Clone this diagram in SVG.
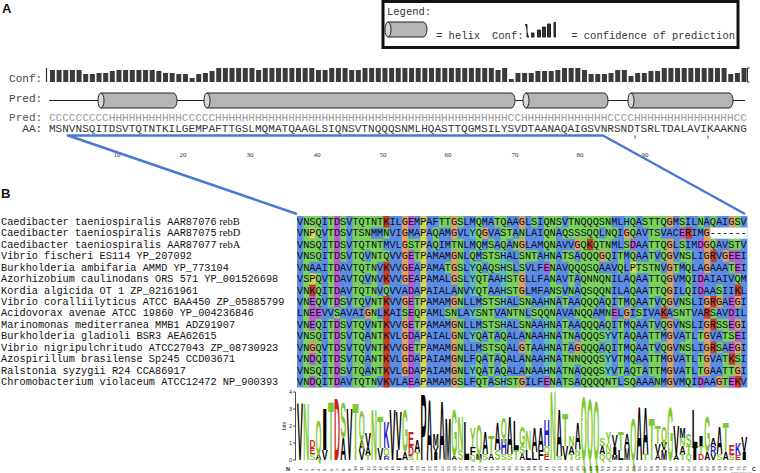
<svg xmlns="http://www.w3.org/2000/svg" width="760" height="473" viewBox="0 0 760 473">
<style>
.m{font-family:"Liberation Mono","DejaVu Sans Mono",monospace}
.pl{font-family:"Liberation Sans",Arial,sans-serif;font-weight:bold;font-size:13px;fill:#111}
.aln text{font-family:"Liberation Mono","DejaVu Sans Mono",monospace;font-size:10.28px;fill:#0d0d20}
.lbl text{font-family:"Liberation Mono","DejaVu Sans Mono",monospace;font-size:10.28px;fill:#111}
.lbl tspan{font-family:"Liberation Serif",serif;font-size:10.5px}
.bg path{fill:none;stroke-width:1}
.cyl{fill:#b5b5b5;stroke:#222;stroke-width:1}
.cyle{fill:#d8d8d8;stroke:#222;stroke-width:1}
.lg text{font-family:"Liberation Sans",Arial,sans-serif;font-weight:bold;font-size:8.38px;text-anchor:middle}
.k{fill:#000}.g{fill:#80c832}.r{fill:#d21d1d}.b{fill:#2020c8}
.num{font-family:"Liberation Serif",serif;font-size:7px;fill:#333;text-anchor:middle}
.ln text{font-family:"Liberation Sans",Arial,sans-serif;font-size:4.3px;fill:#222}
.ax{font-family:"Liberation Sans",Arial,sans-serif;font-size:5.5px;fill:#222}
</style>
<rect width="760" height="473" fill="#fff"/>

<g id="panel-a-label"><text class="pl" x="2" y="13">A</text></g>
<g id="panel-b-label"><text class="pl" x="1" y="198">B</text></g>

<g id="legend">
<rect x="383" y="1.5" width="355" height="46" fill="#fff" stroke="#111" stroke-width="3"/>
<text class="m" x="387" y="15" font-size="10.5" fill="#333">Legend:</text>
<path class="cyl" d="M388 22H423A4 7.5 0 0 1 423 37H388Z"/>
<ellipse class="cyle" cx="388" cy="29.5" rx="3" ry="7.5"/>
<text class="m" x="436" y="38.5" font-size="10.5" fill="#333">= helix</text>
<text class="m" x="492" y="38.5" font-size="10.5" fill="#333">Conf:</text>
<path d="M525 24.5h2v12.5h2M531 33h3v4h-3M537.5 30h3v7h-3z M542.5 27h3v10h-3z M547.5 24h3v13h-3z M556 22.5h-2v14.5h2" fill="#333" stroke="#222" stroke-width="1"/>
<text class="m" x="735" y="38.5" font-size="10.5" fill="#333" text-anchor="end">= confidence of prediction</text>
</g>

<g id="conf">
<text class="m" x="9" y="82" font-size="11.08" fill="#444">Conf:</text>
<path d="M46.5 68v14" stroke="#333" stroke-width="1.2"/>
<path d="M747.5 68v14M747.5 68h2M747.5 82h2" stroke="#333" stroke-width="1"/>
<g transform="translate(49.8,82) scale(6.65,-1)">
<path stroke="#3a3a3a" stroke-width=".75" fill="none" d="M.4 0v12M1.4 0v12M2.4 0v12M3.4 0v12M4.4 0v12M5.4 0v8M6.4 0v8M7.4 0v9M8.4 0v9M9.4 0v11M10.4 0v12M11.4 0v12M12.4 0v12M13.4 0v12M14.4 0v12M15.4 0v12M16.4 0v11M17.4 0v9M18.4 0v9M19.4 0v8M20.4 0v8M21.4 0v4M22.4 0v8M23.4 0v9M24.4 0v11M25.4 0v14M26.4 0v14M27.4 0v14M28.4 0v14M29.4 0v14M30.4 0v14M31.4 0v12M32.4 0v14M33.4 0v14M34.4 0v14M35.4 0v14M36.4 0v14M37.4 0v14M38.4 0v14M39.4 0v14M40.4 0v12M41.4 0v12M42.4 0v14M43.4 0v14M44.4 0v14M45.4 0v12M46.4 0v12M47.4 0v14M48.4 0v14M49.4 0v14M50.4 0v14M51.4 0v14M52.4 0v14M53.4 0v14M54.4 0v14M55.4 0v14M56.4 0v14M57.4 0v14M58.4 0v14M59.4 0v14M60.4 0v14M61.4 0v14M62.4 0v14M63.4 0v14M64.4 0v14M65.4 0v14M66.4 0v14M67.4 0v12M68.4 0v14M69.4 0v3M70.4 0v9M71.4 0v9M72.4 0v9M73.4 0v11M74.4 0v11M75.4 0v11M76.4 0v12M77.4 0v14M78.4 0v14M79.4 0v14M80.4 0v12M81.4 0v8M82.4 0v8M83.4 0v8M84.4 0v9M85.4 0v12M86.4 0v12M87.4 0v6M88.4 0v9M89.4 0v9M90.4 0v11M91.4 0v11M92.4 0v14M93.4 0v14M94.4 0v14M95.4 0v14M96.4 0v14M97.4 0v14M98.4 0v14M99.4 0v14M100.4 0v14M101.4 0v14M102.4 0v8M103.4 0v9M104.4 0v14"/>
</g>
</g>

<g id="pred">
<text class="m" x="9" y="102" font-size="11.08" fill="#444">Pred:</text>
<path d="M49 100.5H745" stroke="#222" stroke-width="1"/>
<path class="cyl" d="M101 93H173A4 7.5 0 0 1 173 108H101Z"/><ellipse class="cyle" cx="101" cy="100.5" rx="3" ry="7.5"/>
<path class="cyl" d="M207 93H511A4 7.5 0 0 1 511 108H207Z"/><ellipse class="cyle" cx="207" cy="100.5" rx="3" ry="7.5"/>
<path class="cyl" d="M526 93H604A4 7.5 0 0 1 604 108H526Z"/><ellipse class="cyle" cx="526" cy="100.5" rx="3" ry="7.5"/>
<path class="cyl" d="M631 93H729A4 7.5 0 0 1 729 108H631Z"/><ellipse class="cyle" cx="631" cy="100.5" rx="3" ry="7.5"/>
</g>

<g id="sequence">
<text class="m" x="9" y="121" font-size="11.08" fill="#555">Pred:</text>
<text class="m" x="48.9" y="121" font-size="11.08" fill="#9a9a9a" textLength="698" lengthAdjust="spacing">CCCCCCCCCHHHHHHHHHHHCCCCCHHHHHHHHHHHHHHHHHHHHHHHHHHHHHHHHHHHHHHHHHHHHCCHHHHHHHHHHHHHCCCCHHHHHHHHHHHHHHHCC</text>
<text class="m" x="22.3" y="132" font-size="11.08" fill="#333">AA:</text>
<text class="m" x="48.9" y="132" font-size="11.08" fill="#333" textLength="698" lengthAdjust="spacing">MSNVNSQITDSVTQTNTKILGEMPAFTTGSLMQMATQAAGLSIQNSVTNQQQSNMLHQASTTQGMSILYSVDTAANAQAIGSVNRSNDTSRLTDALAVIKAAKNG</text>
<path d="M635 135.5v3M708 135.5v3" stroke="#444" stroke-width="1"/>
<text class="num" x="117" y="157">10</text><text class="num" x="183" y="157">20</text><text class="num" x="250" y="157">30</text><text class="num" x="317" y="157">40</text><text class="num" x="383" y="157">50</text><text class="num" x="448" y="157">60</text><text class="num" x="515" y="157">70</text><text class="num" x="580" y="157">80</text><text class="num" x="645" y="157">90</text>
</g>

<g id="connectors">
<polyline points="297,214 68,135.5 603,135.5 745,214" fill="none" stroke="#4a78d2" stroke-width="2.5" stroke-linejoin="round"/>
</g>

<g id="alignment">
<g class="bg" transform="translate(297,216) scale(6.17,11.43)">
<rect x="0" y="0" width="73" height="15" fill="#5b8de6"/>
<path stroke="#78d25a" d="M1 .5h3M5 .5h1M7 .5h1M9 .5h5M23 .5h2M26 .5h1M29 .5h1M32 .5h2M38 .5h1M40 .5h3M44 .5h7M54 .5h1M56 .5h4M62 .5h1M65 .5h1M67 .5h1M71 .5h1M1 1.5h1M3 1.5h1M5 1.5h1M7 1.5h1M9 1.5h3M14 1.5h1M22 1.5h1M29 1.5h1M33 1.5h2M36 1.5h1M40 1.5h2M43 1.5h6M50 1.5h2M54 1.5h1M57 1.5h2M1 2.5h3M5 2.5h1M7 2.5h1M9 2.5h5M18 2.5h2M22 2.5h1M25 2.5h2M29 2.5h1M31 2.5h1M33 2.5h1M35 2.5h1M40 2.5h2M46 2.5h1M48 2.5h3M53 2.5h1M57 2.5h3M62 2.5h1M67 2.5h1M70 2.5h2M1 3.5h3M5 3.5h1M7 3.5h1M9 3.5h2M12 3.5h3M19 3.5h1M26 3.5h1M28 3.5h1M30 3.5h3M36 3.5h3M41 3.5h1M43 3.5h2M46 3.5h3M50 3.5h1M52 3.5h1M54 3.5h1M57 3.5h1M59 3.5h1M62 3.5h2M1 4.5h1M5 4.5h1M9 4.5h4M24 4.5h1M26 4.5h1M29 4.5h1M31 4.5h2M34 4.5h1M36 4.5h1M41 4.5h1M44 4.5h5M52 4.5h1M55 4.5h4M61 4.5h1M63 4.5h1M70 4.5h1M1 5.5h1M3 5.5h1M5 5.5h1M9 5.5h2M12 5.5h1M26 5.5h1M29 5.5h2M34 5.5h2M41 5.5h1M44 5.5h1M46 5.5h5M54 5.5h1M57 5.5h3M63 5.5h1M71 5.5h1M1 6.5h1M3 6.5h1M5 6.5h1M9 6.5h4M14 6.5h1M26 6.5h1M29 6.5h2M34 6.5h2M41 6.5h2M44 6.5h1M46 6.5h5M54 6.5h1M57 6.5h3M63 6.5h1M68 6.5h1M1 7.5h1M3 7.5h1M5 7.5h1M7 7.5h1M9 7.5h2M12 7.5h2M19 7.5h1M26 7.5h1M30 7.5h3M36 7.5h2M41 7.5h1M43 7.5h1M46 7.5h3M50 7.5h1M52 7.5h1M54 7.5h1M57 7.5h1M59 7.5h1M62 7.5h2M1 8.5h1M6 8.5h1M12 8.5h1M17 8.5h1M19 8.5h1M24 8.5h2M29 8.5h3M34 8.5h3M38 8.5h4M45 8.5h3M50 8.5h1M55 8.5h1M61 8.5h3M67 8.5h1M1 9.5h1M3 9.5h1M5 9.5h1M7 9.5h1M9 9.5h2M12 9.5h2M19 9.5h1M26 9.5h1M30 9.5h3M36 9.5h2M41 9.5h1M43 9.5h1M46 9.5h3M50 9.5h1M52 9.5h1M54 9.5h1M57 9.5h1M59 9.5h1M62 9.5h2M68 9.5h2M1 10.5h3M5 10.5h1M7 10.5h1M9 10.5h2M12 10.5h2M26 10.5h1M29 10.5h1M31 10.5h1M33 10.5h1M37 10.5h1M41 10.5h1M43 10.5h2M46 10.5h4M52 10.5h1M54 10.5h1M57 10.5h2M63 10.5h1M65 10.5h1M69 10.5h2M1 11.5h1M3 11.5h1M5 11.5h1M7 11.5h1M9 11.5h2M12 11.5h2M19 11.5h1M26 11.5h1M30 11.5h4M37 11.5h1M41 11.5h1M43 11.5h1M46 11.5h3M50 11.5h1M52 11.5h1M54 11.5h1M57 11.5h1M59 11.5h1M62 11.5h2M68 11.5h1M1 12.5h1M3 12.5h1M5 12.5h1M7 12.5h1M9 12.5h2M12 12.5h2M26 12.5h1M29 12.5h1M31 12.5h1M33 12.5h1M37 12.5h1M41 12.5h1M43 12.5h7M52 12.5h1M54 12.5h1M57 12.5h2M63 12.5h1M65 12.5h1M69 12.5h1M71 12.5h1M1 13.5h3M5 13.5h1M7 13.5h1M9 13.5h2M12 13.5h2M26 13.5h1M29 13.5h1M31 13.5h1M33 13.5h1M37 13.5h1M41 13.5h1M43 13.5h2M46 13.5h4M52 13.5h1M54 13.5h2M57 13.5h2M63 13.5h1M65 13.5h1M69 13.5h2M1 14.5h1M3 14.5h1M5 14.5h1M9 14.5h4M26 14.5h1M29 14.5h2M32 14.5h1M34 14.5h2M41 14.5h1M43 14.5h2M46 14.5h6M53 14.5h2M58 14.5h1M63 14.5h1M69 14.5h1"/>
<path stroke="#bc5ad6" d="M6 .5h1M18 .5h1M6 1.5h1M62 1.5h1M6 2.5h1M54 2.5h1M65 2.5h1M6 3.5h1M18 3.5h1M70 3.5h2M6 4.5h1M18 4.5h1M40 4.5h1M71 4.5h1M6 5.5h1M18 5.5h1M65 5.5h1M6 6.5h1M18 6.5h1M65 6.5h1M2 7.5h1M6 7.5h1M18 7.5h1M70 7.5h1M2 8.5h2M18 8.5h1M51 8.5h1M70 8.5h1M2 9.5h1M6 9.5h1M18 9.5h1M70 9.5h1M6 10.5h1M18 10.5h1M71 10.5h1M6 11.5h1M18 11.5h1M70 11.5h1M2 12.5h1M6 12.5h1M18 12.5h1M6 13.5h1M18 13.5h1M2 14.5h1M6 14.5h1M18 14.5h1M40 14.5h1M65 14.5h1M70 14.5h1"/>
<path stroke="#cf3a1e" d="M14 .5h1M63 1.5h1M47 2.5h1M67 3.5h1M14 4.5h1M14 5.5h1M2 6.5h1M71 6.5h1M14 7.5h1M67 7.5h1M14 8.5h1M59 8.5h1M66 8.5h1M14 9.5h1M67 9.5h1M14 10.5h1M14 11.5h1M67 11.5h1M14 12.5h1M70 12.5h1M14 13.5h1M14 14.5h1M71 14.5h1"/>
<path stroke="#e3a05c" d="M17 .5h1M25 .5h1M36 .5h1M60 .5h1M70 .5h1M17 1.5h1M25 1.5h1M30 1.5h1M53 1.5h1M66 1.5h1M17 2.5h1M36 2.5h1M45 2.5h1M60 2.5h1M66 2.5h1M17 3.5h1M25 3.5h1M49 3.5h1M60 3.5h1M66 3.5h1M69 3.5h1M17 4.5h1M25 4.5h1M60 4.5h1M66 4.5h1M17 5.5h1M25 5.5h1M36 5.5h1M60 5.5h1M36 6.5h1M60 6.5h1M17 7.5h1M25 7.5h1M60 7.5h1M66 7.5h1M68 7.5h1M71 7.5h1M11 8.5h1M53 8.5h1M17 9.5h1M25 9.5h1M60 9.5h1M66 9.5h1M71 9.5h1M17 10.5h1M25 10.5h1M60 10.5h1M66 10.5h1M2 11.5h1M17 11.5h1M25 11.5h1M36 11.5h1M45 11.5h1M60 11.5h1M66 11.5h1M71 11.5h1M17 12.5h1M25 12.5h1M60 12.5h1M66 12.5h1M17 13.5h1M25 13.5h1M60 13.5h1M66 13.5h1M71 13.5h1M25 14.5h1M36 14.5h1M60 14.5h1M68 14.5h1"/>
<path stroke="#d8d64a" d="M20.5 0v15M2 1.5h1M54 4.5h1M2 5.5h1"/>
<path stroke="#5cbcc0" d="M53 .5h1M28 1.5h1M33 3.5h1M40 3.5h1M28 4.5h1M33 4.5h1M28 5.5h1M33 5.5h1M28 6.5h1M33 6.5h1M33 7.5h1M40 7.5h1M28 8.5h1M33 9.5h1M40 9.5h1M28 10.5h1M40 10.5h1M50 10.5h1M40 11.5h1M40 12.5h1M50 12.5h1M28 13.5h1M40 13.5h1M50 13.5h1M33 14.5h1"/>
<path stroke="#ffffff" d="M67 1.5h6"/>
</g>
<g class="aln">
<text x="297" y="224.9">VNSQITDSVTQTNTKILGEMPAFTTGSLMQMATQAAGLSIQNSVTNQQQSNMLHQASTTQGMSILNAQAIGSV</text>
<text x="297" y="236.3">VNPQVTDSVTSNMMNVIGMAPAQAMGVLYQGVASTANLAIQNAQSSSQQLNQIGQAVTSVACERIMG------</text>
<text x="297" y="247.8">VNSQITDSVTQTNTMVLGSTPAQIMTNLMQMSAQANGLAMQNAVVGQKQTNMLSDAATTQGLSIMDGQAVSTV</text>
<text x="297" y="259.2">VNSQITDSVTQVNTQVVGETPAMAMGNLQMSTSHALSNTAHNATSAQQQGQITMQAATVQGVNSLIGRVGEEI</text>
<text x="297" y="270.6">VNAAITDAVTQTNVKVVGEAPAMATGSLYQAQSHSLSVLFENAVQQQSQAAVQLPTSTNVGTMQLAGAAATEI</text>
<text x="297" y="282.1">VSPQVTDAVTQVNVKVVGEAPAMALGSLYQTAAHSTGLLFANAVTAQNNQNILAQAATTQGVMQIDAIAIVQM</text>
<text x="297" y="293.5">VNKQITDAVTQTNVQVVADAPAIALANVYQTAAHSTGLMFANSVNAQSQQNILAQAATTQGILQIDAASIIKL</text>
<text x="297" y="304.9">VNEQVTDSVTQVNTKVVGETPAMAMGNLLMSTSHALSNAAHNATAAQQQAQITMQAATVQGVNSLIGRGAEGI</text>
<text x="297" y="316.3">LNEEVVSAVAIGNLKAISEQPAMLSNLAYSNTVANTNLSQQNAVANQQAMNELGISIVAKASNTVARSAVDIL</text>
<text x="297" y="327.8">VNEQITDSVTQVNTKVVGETPAMAMGNLLMSTSHALSNAAHNATAAQQQAQITMQAATVQGVNSLIGRSSEGI</text>
<text x="297" y="339.2">VNSQITDSVTQANTKVLGDAPAIALGNLYQATAQALANAAHNATNAQQQSYVTAQAATTMGVATLTGVATSEI</text>
<text x="297" y="350.6">VNGQVTDSVTQVNTKVVGETPAMAMGNLLMSTSQALGTAAHNATAGQQQAQITMQAATVQGVNSLIGRSAEGI</text>
<text x="297" y="362.1">VNDQITDSVTQANTKVLGDAPAIAMGNLFQATAQALANAAHNATNNQQQSYVTMQAATTMGVATLTGVATKSI</text>
<text x="297" y="373.5">VNSQITDSVTQANTKVLGDAPAIAMGNLYQATAQALANAAHNATNAQQQSYVTAQTATTMGVATLTGAATTGI</text>
<text x="297" y="384.9">VNDQITDAVTQTNVKVLAEAPAMAMGSLFQTASHSTGILFENATSAQQQQNTLSQAAANMGVMQIDAAGTEKV</text>
</g>
</g>

<g id="labels" class="lbl">
<text x="1" y="224.9">Caedibacter taeniospiralis AAR87076<tspan> rebB</tspan></text>
<text x="1" y="236.3">Caedibacter taeniospiralis AAR87075<tspan> rebD</tspan></text>
<text x="1" y="247.8">Caedibacter taeniospiralis AAR87077<tspan> rebA</tspan></text>
<text x="1" y="259.2">Vibrio fischeri ES114 YP_207092</text>
<text x="1" y="270.6">Burkholderia ambifaria AMMD YP_773104</text>
<text x="1" y="282.1">Azorhizobium caulinodans ORS 571 YP_001526698</text>
<text x="1" y="293.5">Kordia algicida OT 1 ZP_02161961</text>
<text x="1" y="304.9">Vibrio coralliilyticus ATCC BAA450 ZP_05885799</text>
<text x="1" y="316.3">Acidovorax avenae ATCC 19860 YP_004236846</text>
<text x="1" y="327.8">Marinomonas mediterranea MMB1 ADZ91907</text>
<text x="1" y="339.2">Burkholderia gladioli BSR3 AEA62615</text>
<text x="1" y="350.6">Vibrio nigripulchritudo ATCC27043 ZP_08730923</text>
<text x="1" y="362.1">Azospirillum brasilense Sp245 CCD03671</text>
<text x="1" y="373.5">Ralstonia syzygii R24 CCA86917</text>
<text x="1" y="384.9">Chromobacterium violaceum ATCC12472 NP_900393</text>
</g>

<g id="logo">
<path d="M295.5 392V460M293 392h2.5M293 409h2.5M293 426h2.5M293 443h2.5M293 460h2.5" stroke="#222" stroke-width=".8" fill="none"/>
<text class="ax" x="292" y="394" text-anchor="end">4</text><text class="ax" x="292" y="411" text-anchor="end">3</text><text class="ax" x="292" y="428" text-anchor="end">2</text><text class="ax" x="292" y="445" text-anchor="end">1</text><text class="ax" x="292" y="462" text-anchor="end">0</text>
<text class="ax" transform="translate(286,426) rotate(-90)" text-anchor="middle" font-size="5">bits</text>
<text class="ax" x="286" y="471" font-weight="bold">N</text>
<text class="ax" x="752" y="471" font-weight="bold">C</text>
<text x="752" y="472.5" font-family="Liberation Sans,sans-serif" font-size="2.2" fill="#777" text-anchor="end">weblogo.berkeley.edu</text>
<g class="lg">
<text class="k" transform="translate(300.1,460) scale(1.07,9.67)">V</text>
<text class="g" transform="translate(306.3,460) scale(.99,9.67)">N</text>
<text class="g" transform="translate(312.4,460) scale(1.07,1)">S</text><text class="r" transform="translate(312.4,454) scale(1.07,1)">E</text><text class="r" transform="translate(312.4,448) scale(.99,1.33)">D</text>
<text class="k" transform="translate(318.6,460) scale(.99,1)">A</text><text class="g" transform="translate(318.6,454) scale(.92,5.67)">Q</text>
<text class="k" transform="translate(324.8,460) scale(1.07,1.67)">V</text><text class="k" transform="translate(324.8,450) scale(2.57,7)">I</text>
<text class="g" transform="translate(330.9,460) scale(1.17,10)">T</text>
<text class="r" transform="translate(337.1,460) scale(.99,10.67)">D</text>
<text class="k" transform="translate(343.3,460) scale(.99,3.67)">A</text><text class="g" transform="translate(343.3,438) scale(1.07,6)">S</text>
<text class="k" transform="translate(349.5,460) scale(1.07,8.83)">V</text>
<text class="g" transform="translate(355.6,460) scale(1.17,9.67)">T</text>
<text class="k" transform="translate(361.8,460) scale(1.07,1.67)">V</text><text class="k" transform="translate(361.8,450) scale(.99,1.67)">A</text><text class="g" transform="translate(361.8,440) scale(.92,5)">Q</text>
<text class="g" transform="translate(368,460) scale(1.17,.83)">T</text><text class="k" transform="translate(368,455) scale(.99,1.33)">A</text><text class="k" transform="translate(368,447) scale(1.07,2.33)">V</text>
<text class="g" transform="translate(374.1,460) scale(.99,8.67)">N</text>
<text class="k" transform="translate(380.3,460) scale(1.07,2)">V</text><text class="g" transform="translate(380.3,448) scale(1.17,5.33)">T</text>
<text class="b" transform="translate(386.5,460) scale(.99,.67)">R</text><text class="g" transform="translate(386.5,456) scale(.92,1.33)">Q</text><text class="b" transform="translate(386.5,448) scale(.99,4.33)">K</text>
<text class="k" transform="translate(392.6,460) scale(1.07,8.67)">V</text>
<text class="k" transform="translate(398.8,460) scale(1.17,1.67)">L</text><text class="k" transform="translate(398.8,450) scale(1.07,6.67)">V</text>
<text class="k" transform="translate(405,460) scale(.99,1.33)">A</text><text class="g" transform="translate(405,452) scale(.92,7.33)">G</text>
<text class="g" transform="translate(411.1,460) scale(1.07,.67)">S</text><text class="r" transform="translate(411.1,456) scale(.99,1.67)">D</text><text class="r" transform="translate(411.1,446) scale(1.07,2.33)">E</text>
<text class="g" transform="translate(417.3,460) scale(1.17,1.33)">T</text><text class="k" transform="translate(417.3,452) scale(.99,2)">A</text>
<text class="k" transform="translate(423.5,460) scale(1.07,11.33)">P</text>
<text class="k" transform="translate(429.6,460) scale(.99,10.33)">A</text>
<text class="k" transform="translate(435.8,460) scale(2.57,1.33)">I</text><text class="k" transform="translate(435.8,452) scale(1.07,1)">V</text><text class="k" transform="translate(435.8,446) scale(.86,2)">M</text>
<text class="k" transform="translate(442,460) scale(.99,10)">A</text>
<text class="k" transform="translate(448.1,460) scale(.86,7)">M</text>
<text class="k" transform="translate(454.3,460) scale(.99,.67)">A</text><text class="g" transform="translate(454.3,456) scale(.92,8)">G</text>
<text class="g" transform="translate(460.5,460) scale(1.07,1.67)">S</text><text class="g" transform="translate(460.5,450) scale(.99,5.83)">N</text>
<text class="k" transform="translate(466.6,460) scale(1.17,6.67)">L</text>
<text class="g" transform="translate(472.8,460) scale(.92,.83)">Q</text><text class="k" transform="translate(472.8,455) scale(1.17,1.33)">F</text><text class="g" transform="translate(472.8,447) scale(1.07,3.33)">Y</text>
<text class="k" transform="translate(479,460) scale(.86,1)">M</text><text class="g" transform="translate(479,454) scale(.92,5)">Q</text>
<text class="g" transform="translate(485.2,460) scale(1.07,1)">S</text><text class="k" transform="translate(485.2,454) scale(.99,3.67)">A</text>
<text class="k" transform="translate(491.3,460) scale(.99,1)">A</text><text class="g" transform="translate(491.3,454) scale(1.17,3)">T</text>
<text class="g" transform="translate(497.5,460) scale(1.07,1.67)">S</text><text class="k" transform="translate(497.5,450) scale(.99,4.67)">A</text>
<text class="g" transform="translate(503.7,460) scale(1.07,1)">S</text><text class="b" transform="translate(503.7,454) scale(.99,2.67)">H</text><text class="g" transform="translate(503.7,438) scale(.92,3.5)">Q</text>
<text class="g" transform="translate(509.8,460) scale(1.07,1)">S</text><text class="k" transform="translate(509.8,454) scale(.99,6.33)">A</text>
<text class="g" transform="translate(516,460) scale(1.17,1.67)">T</text><text class="k" transform="translate(516,450) scale(1.17,5)">L</text>
<text class="k" transform="translate(522.2,460) scale(.99,1)">A</text><text class="g" transform="translate(522.2,454) scale(1.07,1.33)">S</text><text class="g" transform="translate(522.2,446) scale(.92,3.33)">G</text>
<text class="k" transform="translate(528.3,460) scale(1.17,1.67)">L</text><text class="g" transform="translate(528.3,450) scale(.99,3.33)">N</text>
<text class="k" transform="translate(534.5,460) scale(1.17,1.33)">L</text><text class="k" transform="translate(534.5,452) scale(.99,4.17)">A</text>
<text class="k" transform="translate(540.7,460) scale(1.17,1.67)">F</text><text class="k" transform="translate(540.7,450) scale(.99,3.67)">A</text>
<text class="r" transform="translate(546.8,460) scale(1.07,1)">E</text><text class="g" transform="translate(546.8,454) scale(.92,1.33)">Q</text><text class="b" transform="translate(546.8,446) scale(.99,4.33)">H</text>
<text class="g" transform="translate(553,460) scale(.99,11.67)">N</text>
<text class="g" transform="translate(559.2,460) scale(1.07,.67)">S</text><text class="k" transform="translate(559.2,456) scale(.99,8)">A</text>
<text class="k" transform="translate(565.3,460) scale(1.07,2.33)">V</text><text class="g" transform="translate(565.3,446) scale(1.17,5.5)">T</text>
<text class="g" transform="translate(571.5,460) scale(1.17,1)">T</text><text class="k" transform="translate(571.5,454) scale(.99,1.33)">A</text><text class="g" transform="translate(571.5,446) scale(.99,1.67)">N</text>
<text class="g" transform="translate(577.7,460) scale(.92,.83)">G</text><text class="g" transform="translate(577.7,455) scale(.99,1)">N</text><text class="k" transform="translate(577.7,449) scale(.99,4.33)">A</text>
<text class="g" transform="translate(583.8,460) scale(.92,10.83)">Q</text>
<text class="g" transform="translate(590,460) scale(.92,10.33)">Q</text>
<text class="g" transform="translate(596.2,460) scale(.92,10)">Q</text>
<text class="g" transform="translate(602.3,460) scale(.92,1)">Q</text><text class="k" transform="translate(602.3,454) scale(.99,1.33)">A</text><text class="g" transform="translate(602.3,446) scale(1.07,1.33)">S</text>
<text class="g" transform="translate(608.5,460) scale(.92,1.33)">Q</text><text class="g" transform="translate(608.5,452) scale(.99,1.33)">N</text><text class="g" transform="translate(608.5,444) scale(1.07,2)">Y</text>
<text class="k" transform="translate(614.7,460) scale(.86,.83)">M</text><text class="k" transform="translate(614.7,455) scale(2.57,1.33)">I</text><text class="k" transform="translate(614.7,447) scale(1.07,2)">V</text>
<text class="k" transform="translate(620.8,460) scale(1.17,1.67)">L</text><text class="g" transform="translate(620.8,450) scale(1.17,3)">T</text>
<text class="k" transform="translate(627,460) scale(.86,2)">M</text><text class="k" transform="translate(627,448) scale(.99,2.33)">A</text>
<text class="g" transform="translate(633.2,460) scale(.92,7.17)">Q</text>
<text class="k" transform="translate(639.3,460) scale(.99,9.17)">A</text>
<text class="g" transform="translate(645.5,460) scale(1.17,1)">T</text><text class="k" transform="translate(645.5,454) scale(.99,8)">A</text>
<text class="g" transform="translate(651.7,460) scale(1.17,7.17)">T</text>
<text class="k" transform="translate(657.8,460) scale(.99,1)">A</text><text class="k" transform="translate(657.8,454) scale(1.07,1.67)">V</text><text class="g" transform="translate(657.8,444) scale(1.17,3)">T</text>
<text class="k" transform="translate(664,460) scale(.86,1.67)">M</text><text class="k" transform="translate(664,450) scale(1.07,1.33)">V</text><text class="g" transform="translate(664,442) scale(.92,2.67)">Q</text>
<text class="g" transform="translate(670.2,460) scale(.92,9.17)">G</text>
<text class="k" transform="translate(676.3,460) scale(.99,.83)">A</text><text class="k" transform="translate(676.3,455) scale(1.07,5)">V</text>
<text class="g" transform="translate(682.5,460) scale(1.17,1)">T</text><text class="k" transform="translate(682.5,454) scale(.99,1.33)">A</text><text class="g" transform="translate(682.5,446) scale(.99,1.33)">N</text><text class="k" transform="translate(682.5,438) scale(.86,1.67)">M</text>
<text class="g" transform="translate(688.7,460) scale(.92,1)">Q</text><text class="g" transform="translate(688.7,454) scale(1.17,1.33)">T</text><text class="g" transform="translate(688.7,446) scale(1.07,2)">S</text>
<text class="k" transform="translate(694.8,460) scale(2.57,2)">I</text><text class="k" transform="translate(694.8,448) scale(1.17,6.67)">L</text>
<text class="r" transform="translate(701,460) scale(.99,1)">D</text><text class="g" transform="translate(701,454) scale(1.17,1.33)">T</text><text class="k" transform="translate(701,446) scale(2.57,1.67)">I</text>
<text class="k" transform="translate(707.2,460) scale(.99,1.33)">A</text><text class="g" transform="translate(707.2,452) scale(.92,6)">G</text>
<text class="k" transform="translate(713.3,460) scale(1.07,1)">V</text><text class="b" transform="translate(713.3,454) scale(.99,1.33)">R</text><text class="k" transform="translate(713.3,446) scale(.99,1.33)">A</text>
<text class="g" transform="translate(719.5,460) scale(1.07,1)">S</text><text class="k" transform="translate(719.5,454) scale(.99,4.67)">A</text>
<text class="k" transform="translate(725.7,460) scale(.99,1.33)">A</text><text class="g" transform="translate(725.7,452) scale(1.17,5)">T</text>
<text class="g" transform="translate(731.8,460) scale(1.07,.83)">S</text><text class="r" transform="translate(731.8,455) scale(1.07,1.67)">E</text>
<text class="r" transform="translate(738,460) scale(1.07,.83)">E</text><text class="b" transform="translate(738,455) scale(.99,2)">K</text>
<text class="k" transform="translate(744.2,460) scale(2.57,1.33)">I</text><text class="k" transform="translate(744.2,452) scale(1.07,2.67)">V</text>
</g>
<g class="ln">
<text transform="translate(301.7,471) rotate(-90)">1</text><text transform="translate(307.9,471) rotate(-90)">2</text><text transform="translate(314,471) rotate(-90)">3</text><text transform="translate(320.2,471) rotate(-90)">4</text><text transform="translate(326.4,471) rotate(-90)">5</text><text transform="translate(332.5,471) rotate(-90)">6</text><text transform="translate(338.7,471) rotate(-90)">7</text><text transform="translate(344.9,471) rotate(-90)">8</text><text transform="translate(351.1,471) rotate(-90)">9</text><text transform="translate(357.2,471) rotate(-90)">10</text>
<text transform="translate(363.4,471) rotate(-90)">11</text><text transform="translate(369.6,471) rotate(-90)">12</text><text transform="translate(375.7,471) rotate(-90)">13</text><text transform="translate(381.9,471) rotate(-90)">14</text><text transform="translate(388.1,471) rotate(-90)">15</text><text transform="translate(394.2,471) rotate(-90)">16</text><text transform="translate(400.4,471) rotate(-90)">17</text><text transform="translate(406.6,471) rotate(-90)">18</text><text transform="translate(412.7,471) rotate(-90)">19</text><text transform="translate(418.9,471) rotate(-90)">20</text>
<text transform="translate(425.1,471) rotate(-90)">21</text><text transform="translate(431.2,471) rotate(-90)">22</text><text transform="translate(437.4,471) rotate(-90)">23</text><text transform="translate(443.6,471) rotate(-90)">24</text><text transform="translate(449.7,471) rotate(-90)">25</text><text transform="translate(455.9,471) rotate(-90)">26</text><text transform="translate(462.1,471) rotate(-90)">27</text><text transform="translate(468.2,471) rotate(-90)">28</text><text transform="translate(474.4,471) rotate(-90)">29</text><text transform="translate(480.6,471) rotate(-90)">30</text>
<text transform="translate(486.8,471) rotate(-90)">31</text><text transform="translate(492.9,471) rotate(-90)">32</text><text transform="translate(499.1,471) rotate(-90)">33</text><text transform="translate(505.3,471) rotate(-90)">34</text><text transform="translate(511.4,471) rotate(-90)">35</text><text transform="translate(517.6,471) rotate(-90)">36</text><text transform="translate(523.8,471) rotate(-90)">37</text><text transform="translate(529.9,471) rotate(-90)">38</text><text transform="translate(536.1,471) rotate(-90)">39</text><text transform="translate(542.3,471) rotate(-90)">40</text>
<text transform="translate(548.4,471) rotate(-90)">41</text><text transform="translate(554.6,471) rotate(-90)">42</text><text transform="translate(560.8,471) rotate(-90)">43</text><text transform="translate(566.9,471) rotate(-90)">44</text><text transform="translate(573.1,471) rotate(-90)">45</text><text transform="translate(579.3,471) rotate(-90)">46</text><text transform="translate(585.4,471) rotate(-90)">47</text><text transform="translate(591.6,471) rotate(-90)">48</text><text transform="translate(597.8,471) rotate(-90)">49</text><text transform="translate(603.9,471) rotate(-90)">50</text>
<text transform="translate(610.1,471) rotate(-90)">51</text><text transform="translate(616.3,471) rotate(-90)">52</text><text transform="translate(622.4,471) rotate(-90)">53</text><text transform="translate(628.6,471) rotate(-90)">54</text><text transform="translate(634.8,471) rotate(-90)">55</text><text transform="translate(640.9,471) rotate(-90)">56</text><text transform="translate(647.1,471) rotate(-90)">57</text><text transform="translate(653.3,471) rotate(-90)">58</text><text transform="translate(659.4,471) rotate(-90)">59</text><text transform="translate(665.6,471) rotate(-90)">60</text>
<text transform="translate(671.8,471) rotate(-90)">61</text><text transform="translate(677.9,471) rotate(-90)">62</text><text transform="translate(684.1,471) rotate(-90)">63</text><text transform="translate(690.3,471) rotate(-90)">64</text><text transform="translate(696.4,471) rotate(-90)">65</text><text transform="translate(702.6,471) rotate(-90)">66</text><text transform="translate(708.8,471) rotate(-90)">67</text><text transform="translate(714.9,471) rotate(-90)">68</text><text transform="translate(721.1,471) rotate(-90)">69</text><text transform="translate(727.3,471) rotate(-90)">70</text>
<text transform="translate(733.4,471) rotate(-90)">71</text><text transform="translate(739.6,471) rotate(-90)">72</text><text transform="translate(745.8,471) rotate(-90)">73</text>
</g>
</g>
</svg>
